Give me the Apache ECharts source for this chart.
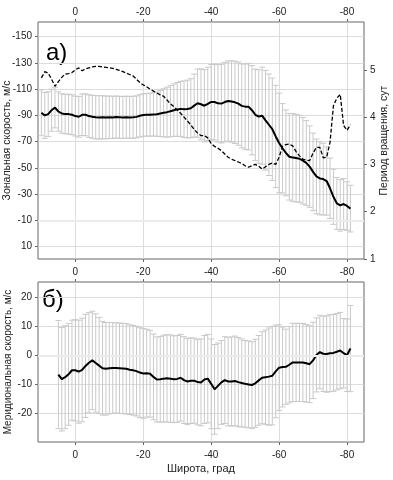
<!DOCTYPE html>
<html><head><meta charset="utf-8">
<script src="https://cdn.jsdelivr.net/npm/echarts@6/dist/echarts.min.js"></script>
<style>html,body{margin:0;padding:0;background:#fff}#c{width:393px;height:480px}</style>
</head><body><div id="c"></div>
<script>
// ---- data ----
const latTicks = [0, -20, -40, -60, -80];
const zonalTicks = [-150, -130, -110, -90, -70, -50, -30, -10, 10];
const periodTicks = [1, 2, 3, 4, 5];
const meridTicks = [-20, -10, 0, 10, 20];

const topLat = [10,9,8,7,6,5,4,3,2,1,0,-1,-2,-3,-4,-5,-6,-7,-8,-9,-10,-11,-12,-13,-14,-15,-16,-17,-18,-19,-20,-21,-22,-23,-24,-25,-26,-27,-28,-29,-30,-31,-32,-33,-34,-35,-36,-37,-38,-39,-40,-41,-42,-43,-44,-45,-46,-47,-48,-49,-50,-51,-52,-53,-54,-55,-56,-57,-58,-59,-60,-61,-62,-63,-64,-65,-66,-67,-68,-69,-70,-71,-72,-73,-74,-75,-76,-77,-78,-79,-80,-81];
const zonalMean = [-92,-90,-91,-94,-96,-93,-91.5,-91,-91,-90.5,-89.5,-89,-90.5,-90.5,-89.5,-89,-88.6,-88.5,-88.7,-88.4,-88.6,-88.5,-88.8,-88.6,-88.4,-88.7,-88.5,-88.6,-88.9,-89.7,-90.3,-90.5,-90.6,-90.8,-90.9,-91.5,-92,-92.5,-93.2,-94,-94.6,-95,-94.8,-94.9,-95.5,-97.5,-99.3,-98.5,-97.4,-98.8,-100.3,-100.2,-99.2,-99,-100.2,-101,-100.6,-100,-99,-97.3,-96.7,-96.7,-94,-90.5,-89.2,-89.8,-86.3,-82.9,-79.5,-74,-69,-65,-61.5,-58.5,-58,-57.5,-57,-55.5,-53.8,-51,-47,-43.5,-42,-41.5,-40,-34.5,-28,-23,-21.5,-22.5,-21,-19];
const zonalErr = [17.5,17.5,17,16,15.5,15,15,15,15.2,15.2,15.2,15.5,15.8,16,16.2,16.4,16.5,16.5,16.4,16.3,16.2,16.1,16,16,16,16,16,16,16,16.1,16.2,16.3,16.4,16.5,16.8,17.5,18.3,19,19.5,20,20.5,21,21.5,22,22.5,24,26,27,27.5,28,28.5,29,29.5,30,30.3,30.6,31,31.3,31.7,32,32.5,33,34,34.8,35.6,37,38,38.7,39,39,38,34,32.7,33,33.5,33.4,33.2,33,32.3,31,29.5,28.5,27.8,27.3,26,23,21,19.8,19.6,19.4,18.5,17.8];
const period = [4.83,4.96,4.93,4.8,4.65,4.75,4.84,4.91,4.92,4.94,5.0,5.04,4.98,5.02,5.04,5.06,5.07,5.07,5.06,5.05,5.04,5.03,5.01,4.99,4.96,4.93,4.9,4.87,4.8,4.73,4.68,4.64,4.59,4.55,4.51,4.47,4.44,4.36,4.28,4.22,4.15,4.08,4.0,3.92,3.83,3.74,3.66,3.61,3.61,3.56,3.44,3.38,3.34,3.29,3.22,3.15,3.11,3.08,3.05,3.02,2.97,2.94,2.97,3.0,2.96,2.9,2.95,3.0,3.03,3.0,3.15,3.38,3.42,3.43,3.39,3.27,3.18,3.11,3.09,3.08,3.24,3.36,3.36,3.14,3.15,3.47,4.24,4.4,4.48,3.82,3.72,3.84];

const botLat = [5,4,3,2,1,0,-1,-2,-3,-4,-5,-6,-7,-8,-9,-10,-11,-12,-13,-14,-15,-16,-17,-18,-19,-20,-21,-22,-23,-24,-25,-26,-27,-28,-29,-30,-31,-32,-33,-34,-35,-36,-37,-38,-39,-40,-41,-42,-43,-44,-45,-46,-47,-48,-49,-50,-51,-52,-53,-54,-55,-56,-57,-58,-59,-60,-61,-62,-63,-64,-65,-66,-67,-68,-69,-70,-71,-72,-73,-74,-75,-76,-77,-78,-79,-80,-81];
const meridMean = [-6.6,-8.2,-7.5,-6.5,-5.1,-5.1,-5.6,-5.0,-3.6,-2.5,-1.7,-2.6,-3.5,-4.4,-4.6,-4.4,-4.3,-4.3,-4.4,-4.5,-4.6,-4.9,-5.1,-5.4,-5.9,-6.2,-6.1,-6.3,-7.4,-8.3,-8.2,-8.0,-7.9,-8.0,-8.2,-8.1,-7.7,-8.5,-9.0,-8.7,-8.7,-9.2,-9.3,-8.3,-8.0,-9.8,-11.7,-10.5,-9.3,-8.5,-9.0,-9.0,-8.8,-9.2,-9.5,-9.8,-10.0,-10.2,-9.6,-8.6,-7.7,-7.5,-7.3,-7.0,-5.5,-4.2,-4.0,-3.9,-3.2,-2.4,-2.4,-2.4,-2.4,-2.7,-3.0,-1.7,0.2,1.2,0.6,0.5,0.8,0.9,1.3,1.7,0.8,0.1,2.4];
const meridErr = [18.7,17.9,17.8,17.6,17.3,17.5,17.8,17.9,17.8,17.3,17,17,16.6,16.2,16,15.8,15.7,15.6,15.6,15.6,15.6,15.5,15.5,15.5,15.5,15.5,15.2,15,14.8,14.7,14.8,15,15.1,15.1,15,15,15,15,14.9,14.8,14.7,14.8,15,15.2,15.3,15.5,15.5,14.8,14.5,15,15.3,15.4,15.5,15.4,15.2,15,15,15,15.2,15.5,15.9,16.3,16.8,17,16,14.8,13.8,13,13.2,13.5,13.5,13.5,13.5,13.4,13.3,13.2,12.8,12.7,13,13.2,13.3,13.3,13.2,13.2,12,12.5,14.9];

// ---- build ----
const FONT = 'Liberation Sans, Arial, sans-serif';
const zip = (xs, ys) => xs.map((x, i) => [x, ys[i]]);
const errData = (xs, m, e) => xs.map((x, i) => [x, m[i] - e[i], m[i] + e[i]]);

function errBar(params, api) {
  const x = api.value(0);
  const p1 = api.coord([x, api.value(1)]);
  const p2 = api.coord([x, api.value(2)]);
  const w = 3;
  const st = { stroke: '#c9c9c9', lineWidth: 1 };
  return { type: 'group', children: [
    { type: 'line', shape: { x1: p1[0], y1: p1[1], x2: p2[0], y2: p2[1] }, style: st },
    { type: 'line', shape: { x1: p1[0] - w, y1: p1[1], x2: p1[0] + w, y2: p1[1] }, style: st },
    { type: 'line', shape: { x1: p2[0] - w, y1: p2[1], x2: p2[0] + w, y2: p2[1] }, style: st }
  ]};
}

const lbl = { fontFamily: FONT, fontSize: 10, color: '#222' };
const tick = { show: true, length: 3, lineStyle: { color: '#666' } };
const grid = { color: '#dcdcdc', width: 1 };
const noLine = { show: false, onZero: false };

function xAx(gi, pos, labels, margin, extra) {
  return Object.assign({
    type: 'value', gridIndex: gi, position: pos, min: -85, max: 11, inverse: true,
    axisLine: noLine,
    axisTick: Object.assign({ customValues: latTicks }, tick),
    axisLabel: Object.assign({ show: labels, customValues: latTicks, margin: margin }, lbl),
    splitLine: { show: pos === 'top', lineStyle: grid }
  }, extra || {});
}

const option = {
  animation: false,
  backgroundColor: '#fff',
  grid: [
    { left: 38, top: 22, width: 326, height: 237, show: true, borderColor: '#666', borderWidth: 1, backgroundColor: 'transparent', containLabel: false, outerBoundsMode: 'none' },
    { left: 38, top: 282, width: 326, height: 160, show: true, borderColor: '#666', borderWidth: 1, backgroundColor: 'transparent', containLabel: false, outerBoundsMode: 'none' }
  ],
  xAxis: [
    xAx(0, 'top', true, 5),
    xAx(0, 'bottom', false, 5),
    xAx(1, 'top', true, 5),
    xAx(1, 'bottom', true, 8, { name: 'Широта, град', nameLocation: 'middle', nameGap: 21, nameMoveOverlap: false,
      nameTextStyle: { fontFamily: FONT, fontSize: 11, color: '#222' } })
  ],
  yAxis: [
    { type: 'value', gridIndex: 0, position: 'left', inverse: true, min: -161.2, max: 19.4,
      name: 'Зональная скорость, м/с', nameLocation: 'middle', nameGap: 25, nameRotate: 90, nameMoveOverlap: false,
      nameTextStyle: { fontFamily: FONT, fontSize: 10.5, color: '#222' },
      axisLine: noLine,
      axisTick: Object.assign({ customValues: zonalTicks }, tick),
      axisLabel: Object.assign({ customValues: zonalTicks, margin: 6 }, lbl),
      splitLine: { show: true, lineStyle: grid } },
    { type: 'value', gridIndex: 0, position: 'right', min: 1, max: 6.01,
      name: 'Период вращения, сут', nameLocation: 'middle', nameGap: 15, nameRotate: 90, nameMoveOverlap: false,
      nameTextStyle: { fontFamily: FONT, fontSize: 10.5, color: '#222' },
      axisLine: noLine,
      axisTick: Object.assign({ customValues: periodTicks }, tick),
      axisLabel: Object.assign({ customValues: periodTicks, margin: 6 }, lbl),
      splitLine: { show: false } },
    { type: 'value', gridIndex: 1, position: 'left', min: -29.9, max: 25.4,
      name: 'Меридиональная скорость, м/с', nameLocation: 'middle', nameGap: 25, nameRotate: 90, nameMoveOverlap: false,
      nameTextStyle: { fontFamily: FONT, fontSize: 10, color: '#222' },
      axisLine: noLine,
      axisTick: Object.assign({ customValues: meridTicks }, tick),
      axisLabel: Object.assign({ customValues: meridTicks, margin: 6 }, lbl),
      splitLine: { show: true, lineStyle: grid } }
  ],
  graphic: [
    { type: 'text', left: 46, top: 41, style: { text: 'а)', font: '24px ' + FONT, fill: '#000' } },
    { type: 'text', left: 42, top: 288, style: { text: 'б)', font: '24px ' + FONT, fill: '#000' } }
  ],
  series: [
    { type: 'custom', xAxisIndex: 0, yAxisIndex: 0, renderItem: errBar, data: errData(topLat, zonalMean, zonalErr), z: 2,
      markLine: { silent: true, symbol: 'none', label: { show: false }, lineStyle: { color: '#ebebeb', width: 2, type: 'solid' }, data: [{ yAxis: -10 }] } },
    { type: 'line', xAxisIndex: 0, yAxisIndex: 0, data: zip(topLat, zonalMean), showSymbol: false, z: 4,
      lineStyle: { color: '#000', width: 2 } },
    { type: 'line', xAxisIndex: 0, yAxisIndex: 1, data: zip(topLat, period), showSymbol: false, z: 4,
      lineStyle: { color: '#000', width: 1.3, type: [4, 2] } },
    { type: 'custom', xAxisIndex: 2, yAxisIndex: 2, renderItem: errBar, data: errData(botLat, meridMean, meridErr), z: 2,
      markLine: { silent: true, symbol: 'none', label: { show: false }, lineStyle: { color: '#ebebeb', width: 2, type: 'solid' }, data: [{ yAxis: 0 }] } },
    { type: 'line', xAxisIndex: 2, yAxisIndex: 2, data: zip(botLat, meridMean), showSymbol: false, z: 4,
      lineStyle: { color: '#000', width: 2 } }
  ]
};
const chart = echarts.init(document.getElementById('c'));
chart.setOption(option);
</script></body></html>
